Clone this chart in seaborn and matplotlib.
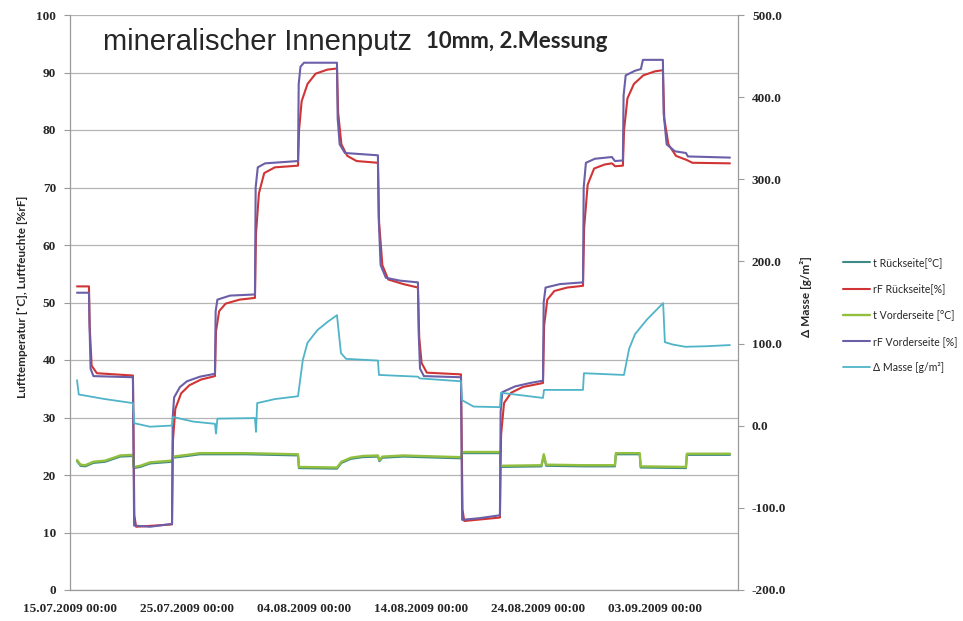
import pandas as pd
import numpy as np
import seaborn as sns
import matplotlib
matplotlib.use("Agg")
import matplotlib.pyplot as plt
import matplotlib.dates as mdates
import matplotlib.ticker as mticker

start = pd.Timestamp("2009-07-15 00:00")

rf_vorder_tage = [0.6, 1.62, 1.68, 1.76, 2.0, 5.38, 5.48, 6.84, 8.72, 8.78, 8.9, 9.40, 10.0, 11.11, 12.39,
                  12.45, 12.6, 13.68, 15.81, 15.87, 16.05, 16.67, 19.49, 19.55, 19.7, 20.0, 22.82,
                  22.88, 23.05, 23.5, 26.32, 26.38, 26.55, 27.0, 28.21, 29.74, 29.8, 29.92, 30.25,
                  33.42, 33.52, 35.04, 36.75, 36.81, 36.95, 38.03, 39.32, 40.43, 40.49, 40.65, 41.88,
                  43.85, 43.91, 44.1, 44.87, 46.32, 46.58, 47.26, 47.32, 47.5, 48.29, 48.80, 48.97,
                  50.68, 50.74, 51.0, 51.71, 52.65, 52.82, 56.41]
rf_vorder_werte = [51.7, 51.7, 45.0, 38.5, 37.2, 37.0, 11.2, 11.0, 11.5, 30.0, 33.5, 35.3, 36.3, 37.1, 37.6,
                   48.5, 50.5, 51.2, 51.4, 70.0, 73.5, 74.2, 74.6, 88.0, 91.0, 91.7, 91.7,
                   82.0, 77.5, 76.0, 75.6, 65.0, 56.5, 54.3, 53.8, 53.5, 45.0, 38.5, 37.2,
                   37.0, 12.2, 12.5, 13.0, 31.0, 34.4, 35.4, 36.0, 36.4, 50.0, 52.6, 53.2,
                   53.5, 70.0, 74.3, 75.0, 75.3, 74.6, 74.7, 86.0, 89.5, 90.3, 90.6, 92.2,
                   92.2, 83.0, 77.5, 76.3, 76.0, 75.4, 75.2]

rf_rueck_tage = [0.6, 1.62, 1.68, 1.85, 2.3, 5.38, 5.5, 5.65, 8.72, 8.8, 9.0, 9.5, 10.2, 11.2, 12.39,
                 12.48, 12.75, 13.3, 14.5, 15.81, 15.9, 16.15, 16.6, 17.5, 19.49, 19.58, 19.8, 20.3,
                 21.0, 22.0, 22.82, 22.92, 23.2, 23.7, 24.5, 26.32, 26.42, 26.7, 27.2, 28.5, 29.74,
                 29.85, 30.05, 30.5, 33.42, 33.55, 33.7, 36.75, 36.85, 37.1, 37.7, 38.7, 40.43, 40.53,
                 40.8, 41.4, 42.5, 43.85, 43.95, 44.25, 44.8, 45.7, 46.32, 46.6, 47.26, 47.36, 47.65,
                 48.2, 49.0, 50.0, 50.68, 50.8, 51.15, 51.8, 52.7, 53.2, 56.41]
rf_rueck_werte = [52.8, 52.8, 46.0, 39.0, 37.7, 37.3, 13.0, 11.0, 11.4, 26.0, 31.5, 34.2, 35.6, 36.6, 37.2,
                  45.0, 48.5, 49.8, 50.5, 50.8, 62.0, 69.0, 72.5, 73.5, 73.8, 80.0, 85.0, 88.0,
                  89.8, 90.5, 90.7, 83.0, 77.5, 75.5, 74.6, 74.3, 64.0, 56.5, 54.0, 53.2, 52.6,
                  44.0, 39.5, 37.8, 37.5, 14.0, 12.0, 12.6, 27.0, 32.5, 34.3, 35.3, 36.0, 46.0,
                  50.5, 52.0, 52.6, 52.9, 63.0, 70.5, 73.3, 74.0, 74.2, 73.7, 73.8, 80.0, 85.5,
                  88.0, 89.5, 90.2, 90.4, 82.0, 77.5, 75.5, 74.8, 74.3, 74.2]

t_tage = [0.6, 0.9, 1.3, 2.0, 3.0, 4.3, 5.38, 5.46, 6.0, 6.84, 8.72, 8.8, 10.0, 11.1, 15.0, 19.49,
          19.57, 22.82, 23.2, 24.0, 25.0, 26.32, 26.45, 26.7, 28.5, 30.0, 33.42, 33.5, 36.75,
          36.83, 40.3, 40.5, 40.7, 43.85, 46.58, 46.66, 48.7, 48.78, 52.65, 52.73, 56.41]
t_vorder_werte = [22.6, 21.8, 21.7, 22.3, 22.5, 23.4, 23.5, 21.4, 21.6, 22.2, 22.5, 23.2, 23.5, 23.8, 23.8, 23.6,
                  21.4, 21.3, 22.3, 23.0, 23.3, 23.4, 22.6, 23.2, 23.4, 23.3, 23.1, 24.0, 24.0,
                  21.6, 21.7, 23.6, 21.8, 21.7, 21.7, 23.8, 23.8, 21.5, 21.4, 23.7, 23.7]
t_rueck_werte = [22.4, 21.6, 21.5, 22.1, 22.3, 23.2, 23.3, 21.2, 21.4, 22.0, 22.3, 23.0, 23.3, 23.6, 23.6, 23.4,
                 21.2, 21.1, 22.1, 22.8, 23.1, 23.2, 22.4, 23.0, 23.2, 23.1, 22.9, 23.8, 23.8,
                 21.4, 21.5, 23.4, 21.6, 21.5, 21.5, 23.6, 23.6, 21.3, 21.2, 23.5, 23.5]

masse_tage = [0.6, 0.75, 1.6, 3.0, 5.38, 5.5, 6.84, 8.72, 8.80, 10.5, 12.39, 12.48, 12.6, 15.81, 15.9,
              16.0, 17.5, 19.49, 19.9, 20.3, 21.15, 22.0, 22.82, 23.16, 23.6, 26.32, 26.41, 29.74,
              29.9, 33.42, 33.52, 34.5, 36.75, 36.84, 40.43, 40.52, 43.85, 43.93, 47.35, 47.8, 48.3,
              49.3, 50.7, 50.85, 51.5, 52.6, 54.5, 56.41]
masse_werte = [55.5, 38.0, 35.9, 32.4, 27.5, 3.0, -1.2, 0.2, 10.7, 5.1, 2.3, -9.6, 8.6, 9.3, -7.5,
               27.5, 32.4, 35.9, 80.0, 101.0, 116.4, 126.2, 134.6, 88.4, 81.4, 79.3, 61.8, 59.7,
               57.6, 54.1, 31.0, 23.3, 22.6, 40.1, 33.8, 43.6, 43.6, 63.9, 61.8, 94.0, 111.5,
               129.0, 149.3, 101.7, 98.9, 96.1, 96.8, 98.2]

x_ticks = pd.date_range("2009-07-15", periods=6, freq="10D")


def zeit(tage):
    return start + pd.to_timedelta(np.array(tage), unit="D")


sns.set_style("white")
plt.rcParams['font.family'] = ['DejaVu Sans']

fig = plt.figure(figsize=(9.63, 6.21), dpi=100)
ax = fig.add_axes([70 / 963, 31 / 621, 668 / 963, 575 / 621])
ax2 = ax.twinx()

farben = {
    "t Rückseite[°C]": "#3f8a86",
    "rF Rückseite[%]": "#d03434",
    "t Vorderseite [°C]": "#92bf3e",
    "rF Vorderseite [%]": "#6a5fa8",
    "Δ Masse [g/m²]": "#4fb4c8",
}

sns.lineplot(x=zeit(t_tage), y=t_rueck_werte, ax=ax, color=farben["t Rückseite[°C]"],
             estimator=None, sort=False, lw=1.5, label="t Rückseite[°C]", legend=False)
sns.lineplot(x=zeit(rf_rueck_tage), y=rf_rueck_werte, ax=ax, color=farben["rF Rückseite[%]"],
             estimator=None, sort=False, lw=1.5, label="rF Rückseite[%]", legend=False)
sns.lineplot(x=zeit(t_tage), y=t_vorder_werte, ax=ax, color=farben["t Vorderseite [°C]"],
             estimator=None, sort=False, lw=1.7, label="t Vorderseite [°C]", legend=False)
sns.lineplot(x=zeit(rf_vorder_tage), y=rf_vorder_werte, ax=ax, color=farben["rF Vorderseite [%]"],
             estimator=None, sort=False, lw=1.5, label="rF Vorderseite [%]", legend=False)
sns.lineplot(x=zeit(masse_tage), y=masse_werte, ax=ax2, color=farben["Δ Masse [g/m²]"],
             estimator=None, sort=False, lw=1.3, label="Δ Masse [g/m²]", legend=False)

ax.set_ylim(0, 100)
ax2.set_ylim(-200, 500)
ax.set_xlim(start, start + pd.Timedelta(days=57.1))
ax.yaxis.set_major_locator(mticker.MultipleLocator(10))
ax2.yaxis.set_major_locator(mticker.MultipleLocator(100))
ax2.yaxis.set_major_formatter(mticker.FormatStrFormatter('%.1f'))
ax.xaxis.set_major_locator(mticker.FixedLocator(mdates.date2num(x_ticks)))
ax.xaxis.set_major_formatter(mdates.DateFormatter('%d.%m.%Y %H:%M'))
ax.xaxis.set_minor_locator(mdates.DayLocator(interval=1))

ax.yaxis.grid(True, color='#b4b4b4', lw=0.9)
ax.set_axisbelow(True)
for a in (ax, ax2):
    a.spines["top"].set_visible(False)
    for s in ("left", "right", "bottom"):
        a.spines[s].set_color('#9a9a9a')
        a.spines[s].set_linewidth(0.9)
ax.spines["right"].set_visible(False)
ax2.spines["left"].set_visible(False)
ax2.spines["bottom"].set_visible(False)

ax.tick_params(axis='y', which='major', direction='out', length=4, width=0.8, color='#9a9a9a', pad=6)
ax2.tick_params(axis='y', which='major', direction='out', length=4, width=0.8, color='#9a9a9a', pad=6)
ax.tick_params(axis='x', which='major', direction='inout', length=6, width=0.8, color='#9a9a9a', pad=6)
ax.tick_params(axis='x', which='minor', direction='inout', length=3, width=0.6, color='#b0b0b0')
for lab in ax.get_xticklabels() + ax.get_yticklabels() + ax2.get_yticklabels():
    lab.set_fontfamily('Liberation Serif')
    lab.set_fontweight('bold')
    lab.set_fontsize(9.5)
ax.set_xlabel("")
ax.set_ylabel("")
ax2.set_ylabel("")

fig.text(23 / 963, 1 - 297 / 621, "Lufttemperatur [˚C], Luftfeuchte [%rF]", rotation=90,
         ha='center', va='center', family='Lato', weight='bold', size=8.5)
fig.text(806 / 963, 1 - 297 / 621, "Δ Masse [g/m²]", rotation=90,
         ha='center', va='center', family=['Lato', 'DejaVu Sans'], weight='bold', size=8.5)

fig.text(103 / 963, 1 - 42 / 621, "mineralischer Innenputz", ha='left', va='center',
         family='Liberation Sans', size=21)
fig.text(426 / 963, 1 - 42 / 621, "10mm, 2.Messung", ha='left', va='center',
         family='Lato', weight='bold', size=16)

handles = ax.get_lines()[:4] + ax2.get_lines()[:1]
labels = [h.get_label() for h in handles]
fig.legend(handles, labels, loc='center left', bbox_to_anchor=(843 / 963, 1 - 315 / 621),
           frameon=False, handlelength=2.6, labelspacing=1.45, handletextpad=0.25,
           borderpad=0, borderaxespad=0,
           prop={'family': ['Lato', 'DejaVu Sans'], 'size': 7.6})

fig.savefig("out.png", dpi=100)
